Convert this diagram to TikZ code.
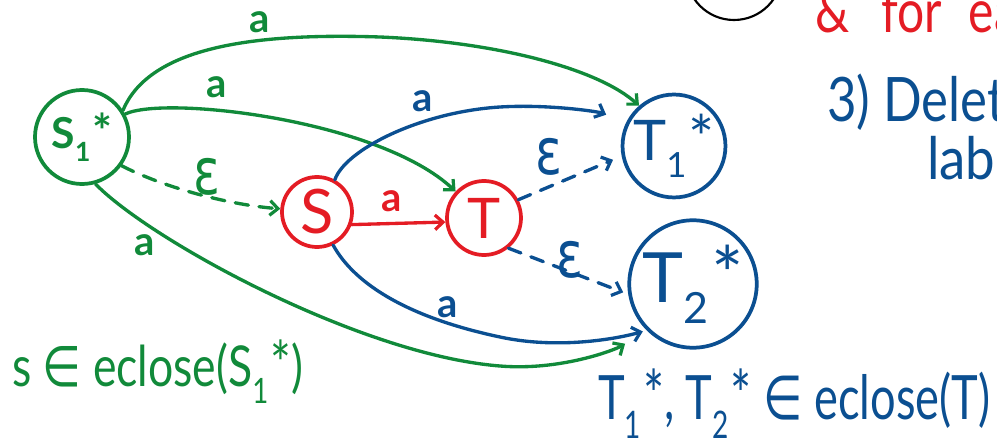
\documentclass[tikz,border=0pt]{standalone}
\usepackage{fontspec}
\usepackage{graphicx}
\setmainfont{Lato}
\newfontfamily\dvs{DejaVu Sans}
\usetikzlibrary{arrows.meta}
\definecolor{grn}{RGB}{17,138,58}
\definecolor{rd}{RGB}{228,28,36}
\definecolor{blu}{RGB}{11,79,145}
\newcommand{\ssx}[1]{\raisebox{-0.3em}{\scalebox{0.62}{#1}}\kern0.04em\raisebox{0.0em}{\scalebox{1.1}{*}}}
\newcommand{\elem}{{\dvs ∈}}
\begin{document}
\begin{tikzpicture}[x=0.75pt,y=-0.75pt,
  st/.style={circle, line width=2.8pt, inner sep=0pt},
  con/.style={line width=2.5pt, line cap=round},
  arr/.style={con, -{Straight Barb[length=6pt,width=11pt,line width=2.4pt]}},
  dsh/.style={dash pattern=on 10pt off 8pt},
  albl/.style={inner sep=0pt, font=\fontsize{30}{30}\selectfont\bfseries},
  elbl/.style={inner sep=0pt, font=\fontsize{44}{44}\selectfont\dvs},
  hand/.style={inner sep=0pt, anchor=base west}
]
\useasboundingbox (0,0) rectangle (997,445);
\clip (0,0) rectangle (997,445);

% states
\node[st, draw=grn, text=grn, minimum size=70.5pt, font=\fontsize{32}{32}\selectfont\bfseries] (S1) at (82,137) {S\ssx{1}};
\node[st, draw=rd, text=rd, minimum size=52.5pt, font=\fontsize{46}{46}\selectfont] (S) at (317,212) {S};
\node[st, draw=rd, text=rd, minimum size=55.5pt, font=\fontsize{42}{42}\selectfont] (T) at (484,218) {T};
\node[st, draw=blu, text=blu, minimum size=69pt, font=\fontsize{42}{42}\selectfont] (T1) at (674,146) {T\ssx{1}};
\node[st, draw=blu, text=blu, minimum size=75pt, font=\fontsize{52}{52}\selectfont] (T2) at (693,284) {T\ssx{2}};
\node[circle, draw=black, line width=1.6pt, minimum size=72pt] (top) at (734,-28) {};

% green edges
\draw[arr, grn] (S1.33) .. controls (150,45) and (260,33) .. (380,37) .. controls (500,42) and (600,70) .. (T1.131);
\node[albl, text=grn] (a1) at (260,22) {a};
\draw[arr, grn] (S1.28) .. controls (165,95) and (380,120) .. (T.137);
\node[albl, text=grn] (a2) at (217,87) {a};
\draw[arr, grn, dsh] (S1.-36) .. controls (165,188) and (230,205) .. (S.175);
\node[elbl, text=grn] (e1) at (207,177) {\scalebox{0.85}[1.1]{ε}};
\draw[arr, grn, shorten >=19pt] (S1.-74) .. controls (150,240) and (360,355) .. (500,366) .. controls (560,371) and (615,350) .. (T2.225);
\node[albl, text=grn] (a3) at (145,245) {a};

% red edge
\draw[arr, rd] (S.-20) -- (T.186);
\node[albl, text=rd] (a4) at (392,201) {a};

% blue edges
\draw[arr, blu, shorten >=16pt] (S.61) .. controls (345,150) and (420,112) .. (500,107) .. controls (550,104) and (600,112) .. (T1.155);
\node[albl, text=blu] (a5) at (423,101) {a};
\draw[arr, blu, dsh, shorten >=7pt] (T.28) -- (T1.191);
\node[elbl, text=blu] (e2) at (549,157) {\scalebox{0.85}[1.1]{ε}};
\draw[arr, blu, dsh, shorten >=4pt] (T.-51) -- (T2.189);
\node[elbl, text=blu] (e3) at (570,260) {\scalebox{0.85}[1.1]{ε}};
\draw[arr, blu, shorten >=3pt] (S.-64) .. controls (355,285) and (410,318) .. (500,337) .. controls (560,350) and (620,338) .. (T2.225);
\node[albl, text=blu] (a6) at (448,307) {a};

% texts
\node[hand, text=rd, font=\fontsize{36}{36}\selectfont] (amp) at (815,33) {\scalebox{1}[1.25]{\&\hspace{24pt}for\hspace{20pt}ea}};
\node[hand, text=blu, font=\fontsize{46}{46}\selectfont] (del) at (827,122) {\scalebox{0.83}[1]{3) Delet}};
\node[hand, text=blu, font=\fontsize{44}{44}\selectfont] (labx) at (927,180) {\scalebox{0.9}[1]{lab}};
\node[hand, text=grn, font=\fontsize{40}{40}\selectfont] (sin) at (12,387) {\resizebox{218pt}{35pt}{s \elem\ eclose(S\ssx{1})}};
\node[hand, text=blu, font=\fontsize{40}{40}\selectfont] (tin) at (598,420) {\resizebox{294pt}{38pt}{T\ssx{1}, T\ssx{2} \elem\ eclose(T)}};
\end{tikzpicture}
\end{document}
